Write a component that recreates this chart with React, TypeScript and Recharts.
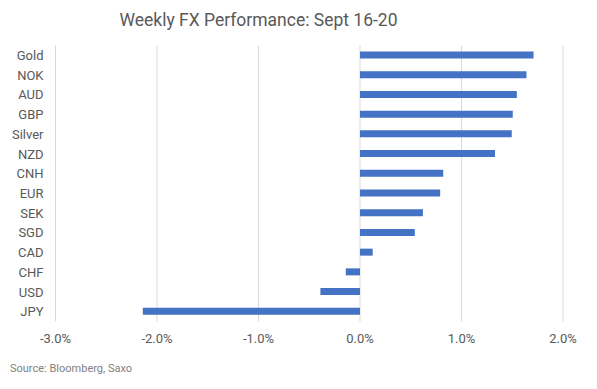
import React from "react";
import { BarChart, Bar, CartesianGrid, XAxis, YAxis } from "recharts";

const categories = ["Gold", "NOK", "AUD", "GBP", "Silver", "NZD", "CNH", "EUR", "SEK", "SGD", "CAD", "CHF", "USD", "JPY"];
const weeklyChange = [1.71, 1.64, 1.545, 1.505, 1.495, 1.33, 0.82, 0.79, 0.62, 0.54, 0.125, -0.14, -0.39, -2.14];
const xTicks = [-3, -2, -1, 0, 1, 2];

const data = categories.map((name, i) => ({ name, value: weeklyChange[i] }));

const FONT = "Roboto, 'Open Sans', sans-serif";

export default function App() {
  return (
    <div style={{ position: "absolute", left: 0, top: 0, width: 597, height: 389, background: "#fff", fontFamily: FONT }}>
      <div
        style={{
          position: "absolute",
          top: 10,
          left: 0,
          width: 517,
          textAlign: "center",
          fontSize: 17.5,
          color: "#595959",
        }}
      >
        Weekly FX Performance: Sept 16-20
      </div>

      <BarChart
        width={597}
        height={389}
        data={data}
        layout="vertical"
        barSize={7}
        margin={{ top: 45.5, right: 34, bottom: 37.5, left: 0 }}
      >
        <CartesianGrid horizontal={false} stroke="#d9d9d9" strokeWidth={1} />
        <XAxis
          type="number"
          domain={[-3, 2]}
          ticks={xTicks}
          height={30}
          tickFormatter={(v: number) => `${v.toFixed(1)}%`}
          axisLine={false}
          tickLine={false}
          tickMargin={6}
          tick={{ fill: "#595959", fontSize: 13, fontFamily: FONT }}
          interval={0}
        />
        <YAxis
          type="category"
          dataKey="name"
          width={55.5}
          axisLine={false}
          tickLine={false}
          tickMargin={6}
          tick={{ fill: "#595959", fontSize: 13, fontFamily: FONT }}
          interval={0}
        />
        <Bar dataKey="value" fill="#4472C4" isAnimationActive={false} />
      </BarChart>

      <div
        style={{
          position: "absolute",
          left: 10,
          top: 362,
          fontSize: 11,
          color: "#808080",
        }}
      >
        Source: Bloomberg, Saxo
      </div>
    </div>
  );
}
